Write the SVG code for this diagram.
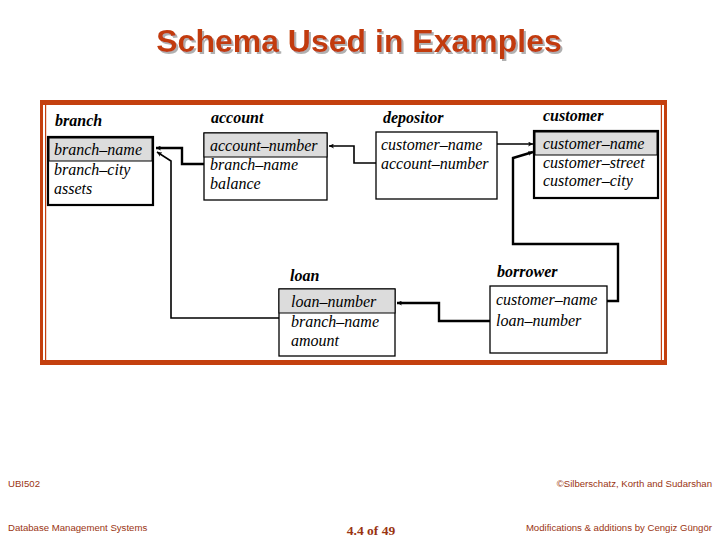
<svg xmlns="http://www.w3.org/2000/svg" width="720" height="540" viewBox="0 0 720 540">
<defs>
<marker id="arr" viewBox="0 0 10 10" refX="10" refY="5" markerWidth="5" markerHeight="5" orient="auto" markerUnits="userSpaceOnUse">
<path d="M0,0 L10,5 L0,10 L3,5 Z" fill="#000"/>
</marker>
<filter id="shadow" x="-5%" y="-20%" width="110%" height="140%">
<feFlood flood-color="#b0b0b0" result="c"/>
<feComposite in="c" in2="SourceAlpha" operator="in" result="s"/>
<feOffset in="s" dx="2" dy="2" result="o"/>
<feMerge><feMergeNode in="o"/><feMergeNode in="SourceGraphic"/></feMerge>
</filter>
<style>
.lbl{font-family:"Liberation Serif",serif;font-style:italic;font-weight:bold;font-size:16px;fill:#000}
.att{font-family:"Liberation Serif",serif;font-style:italic;font-size:16px;fill:#000}
.box{fill:#fff;stroke:#000;stroke-width:1.3}
.boxb{fill:#fff;stroke:#000;stroke-width:2.2}
.key{fill:#dcdcdc;stroke:#000;stroke-width:1}
.con{fill:none;stroke:#000;stroke-width:1.6}
.conb{fill:none;stroke:#000;stroke-width:2.4}
.frame{fill:#c4400f}
.foot{font-family:"Liberation Sans",Arial,sans-serif;font-size:9.6px;fill:#9a3412}
</style>
</defs>
<rect width="720" height="540" fill="#fff"/>
<text x="359" y="52" text-anchor="middle" font-family="Liberation Sans,Arial,sans-serif" font-weight="bold" font-size="32" fill="#c23b0f" filter="url(#shadow)">Schema Used in Examples</text>
<g id="frame">
<rect class="frame" x="40" y="100" width="627" height="5"/>
<rect class="frame" x="40" y="360" width="627" height="5"/>
<rect class="frame" x="40" y="100" width="3" height="265"/>
<rect class="frame" x="45" y="105" width="1.2" height="255"/>
<rect class="frame" x="660.8" y="105" width="1.2" height="255"/>
<rect class="frame" x="664" y="100" width="3" height="265"/>
</g>
<g id="connectors">
<path class="conb" d="M204,164 H182 V148 H156" marker-end="url(#arr)"/>
<path class="con" d="M279,318 H171 V161 L157,152" marker-end="url(#arr)"/>
<path class="con" d="M376,163 H354 V146 H329" marker-end="url(#arr)"/>
<path class="con" d="M497,144 H533" marker-end="url(#arr)"/>
<path class="conb" d="M607,301 H618 V244 H513 V158 L533,152" marker-end="url(#arr)"/>
<path class="conb" d="M490,321 H439 V303 H397" marker-end="url(#arr)"/>
</g>
<g id="branch">
<text class="lbl" x="55" y="126">branch</text>
<rect class="boxb" x="48" y="137" width="105" height="68"/>
<rect class="key" x="49" y="138" width="103" height="23"/>
<text class="att" x="54" y="155">branch–name</text>
<text class="att" x="54" y="175">branch–city</text>
<text class="att" x="54" y="194">assets</text>
</g>
<g id="account">
<text class="lbl" x="211" y="123">account</text>
<rect class="box" x="204" y="133" width="123" height="67"/>
<rect class="key" x="204" y="133" width="123" height="24"/>
<text class="att" x="210" y="151">account–number</text>
<text class="att" x="210" y="170">branch–name</text>
<text class="att" x="210" y="189">balance</text>
</g>
<g id="depositor">
<text class="lbl" x="383" y="123">depositor</text>
<rect class="box" x="376" y="132" width="121" height="67"/>
<text class="att" x="381" y="150">customer–name</text>
<text class="att" x="381" y="169">account–number</text>
</g>
<g id="customer">
<text class="lbl" x="543" y="121">customer</text>
<rect class="boxb" x="534" y="131" width="124" height="67"/>
<rect class="key" x="535" y="132" width="122" height="23"/>
<text class="att" x="543" y="149">customer–name</text>
<text class="att" x="543" y="168">customer–street</text>
<text class="att" x="543" y="186">customer–city</text>
</g>
<g id="loan">
<text class="lbl" x="290" y="281">loan</text>
<rect class="box" x="279" y="289" width="116" height="67"/>
<rect class="key" x="279" y="289" width="116" height="24"/>
<text class="att" x="291" y="307">loan–number</text>
<text class="att" x="291" y="327">branch–name</text>
<text class="att" x="291" y="346">amount</text>
</g>
<g id="borrower">
<text class="lbl" x="497" y="277">borrower</text>
<rect class="box" x="490" y="286" width="117" height="67"/>
<text class="att" x="496" y="305">customer–name</text>
<text class="att" x="496" y="326">loan–number</text>
</g>
<g id="footer">
<text class="foot" x="8" y="487">UBI502</text>
<text class="foot" x="8" y="531">Database Management Systems</text>
<text x="371" y="535" text-anchor="middle" font-family="Liberation Serif,serif" font-weight="bold" font-size="13.5" fill="#9a3412">4.4 of 49</text>
<text class="foot" x="712" y="487" text-anchor="end">©Silberschatz, Korth and Sudarshan</text>
<text class="foot" x="712" y="531" text-anchor="end">Modifications &amp; additions by Cengiz Güngör</text>
</g>
</svg>
